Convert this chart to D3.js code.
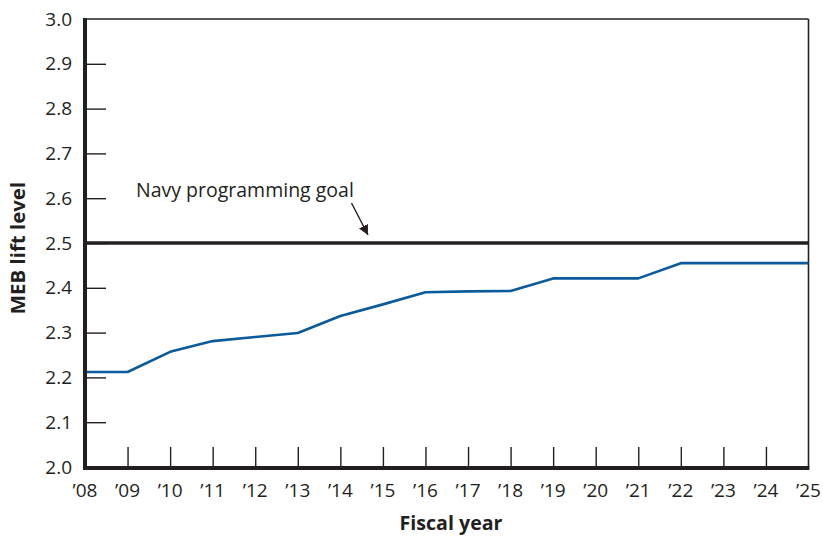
<!DOCTYPE html>
<html><head><meta charset="utf-8">
<script src="https://cdn.jsdelivr.net/npm/d3@7"></script>
<style>
html,body{margin:0;padding:0;background:#fff;}
svg{display:block;}
text{font-family:"Open Sans",sans-serif;fill:#231f20;}
</style></head>
<body>
<svg id="chart" width="823" height="536"></svg>
<script>
const years = ["08","09","10","11","12","13","14","15","16","17","18","19","20","21","22","23","24","25"];
const liftLevel = [2.212,2.212,2.257,2.281,2.290,2.299,2.337,2.363,2.390,2.392,2.393,2.421,2.421,2.421,2.455,2.455,2.455,2.455];
const yTicks = [2.0,2.1,2.2,2.3,2.4,2.5,2.6,2.7,2.8,2.9,3.0];
const goalValue = 2.5;
const goalLabel = "Navy programming goal";
const xTitle = "Fiscal year";
const yTitle = "MEB lift level";

const svg = d3.select("#chart");
const pLeft = 85, pRight = 808.5, pTop = 19, pBottom = 467;
const ink = "#231f20";

const x = d3.scalePoint().domain(years).range([pLeft, pRight]);
const y = d3.scaleLinear().domain([2.0, 3.0]).range([pBottom, pTop]);

// frame: top and right thin lines
svg.append("line").attr("x1", pLeft).attr("x2", pRight).attr("y1", pTop).attr("y2", pTop)
  .attr("stroke", ink).attr("stroke-width", 1.6);
svg.append("line").attr("x1", pRight).attr("x2", pRight).attr("y1", pTop).attr("y2", pBottom + 2)
  .attr("stroke", ink).attr("stroke-width", 1.6);

// y axis ticks (inward)
const yAxis = d3.axisRight(y).tickValues(yTicks.filter(d => d > 2.0 && d < 3.0)).tickSize(21).tickFormat("");
const gy = svg.append("g").attr("transform", `translate(${pLeft},0)`).call(yAxis);
gy.select(".domain").remove();
gy.selectAll(".tick line").attr("stroke", ink).attr("stroke-width", 1.4);

// y tick labels
svg.append("g").selectAll("text").data(yTicks).join("text")
  .attr("x", 72).attr("y", d => y(d)).attr("dy", "0.35em")
  .attr("text-anchor", "end").style("font-size", "19px")
  .text(d => d.toFixed(1));

// x axis ticks (upward)
const xAxis = d3.axisTop(x).tickValues(years.slice(1, -1)).tickSize(20).tickFormat("");
const gx = svg.append("g").attr("transform", `translate(0,${pBottom})`).call(xAxis);
gx.select(".domain").remove();
gx.selectAll(".tick line").attr("stroke", ink).attr("stroke-width", 1.4);

// x tick labels
svg.append("g").selectAll("text").data(years).join("text")
  .attr("x", d => x(d)).attr("y", 497)
  .attr("text-anchor", "middle").style("font-size", "19px")
  .text(d => "\u2019" + d);

// goal line
svg.append("line").attr("x1", pLeft).attr("x2", pRight).attr("y1", y(goalValue)).attr("y2", y(goalValue))
  .attr("stroke", ink).attr("stroke-width", 3.5);

// data line
svg.append("path").datum(years.map((d, i) => [d, liftLevel[i]]))
  .attr("fill", "none").attr("stroke", "#0a5a9c").attr("stroke-width", 2.6)
  .attr("stroke-linejoin", "round")
  .attr("d", d3.line().x(d => x(d[0])).y(d => y(d[1])));

// thick left and bottom axes
svg.append("line").attr("x1", pLeft).attr("x2", pLeft).attr("y1", pTop - 1).attr("y2", pBottom + 3)
  .attr("stroke", ink).attr("stroke-width", 4);
svg.append("line").attr("x1", pLeft - 2).attr("x2", pRight + 0.8).attr("y1", pBottom + 1).attr("y2", pBottom + 1)
  .attr("stroke", ink).attr("stroke-width", 4);

// annotation
svg.append("text").attr("x", 136).attr("y", 197).style("font-size", "19.5px").text(goalLabel);
svg.append("defs").append("marker").attr("id", "arr").attr("viewBox", "0 0 10 10")
  .attr("refX", 10).attr("refY", 5).attr("markerWidth", 10).attr("markerHeight", 10)
  .attr("markerUnits", "userSpaceOnUse").attr("orient", "auto")
  .append("path").attr("d", "M0,0 L10,5 L0,10 Z").attr("fill", ink);
svg.append("line").attr("x1", 351.5).attr("y1", 203).attr("x2", 368).attr("y2", 235)
  .attr("stroke", ink).attr("stroke-width", 1.4).attr("marker-end", "url(#arr)");

// axis titles
svg.append("text").attr("x", 451).attr("y", 530).attr("text-anchor", "middle")
  .style("font-size", "19.6px").style("font-weight", "bold").text(xTitle);
svg.append("text").attr("transform", `translate(25,${(pTop + pBottom) / 2 + 5}) rotate(-90)`)
  .attr("text-anchor", "middle").style("font-size", "20.4px").style("font-weight", "bold").text(yTitle);
</script>
</body></html>
